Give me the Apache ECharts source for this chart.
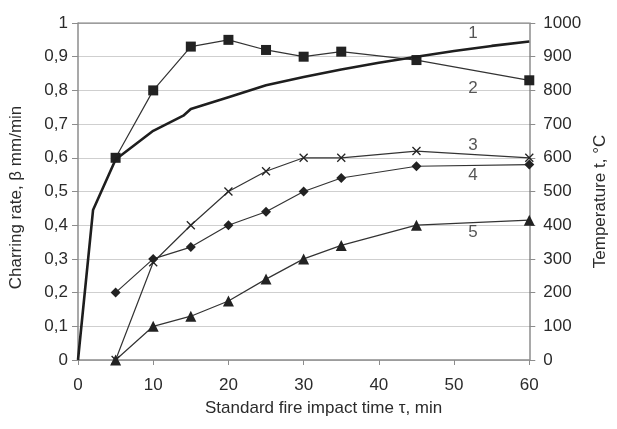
<!DOCTYPE html>
<html>
<head>
<meta charset="utf-8">
<script src="https://cdn.jsdelivr.net/npm/echarts@6/dist/echarts.min.js"></script>
<style>html,body{margin:0;padding:0;background:#fff}#c{width:617px;height:429px}</style>
</head>
<body>
<div id="c"></div>
<script>
// Curve 1: furnace temperature (right axis, °C)
const temp1 = [[0,0],[2,445],[5,595],[10,680],[14,725],[15,745],[20,780],[25,815],[30,840],[35,862],[40,882],[45,900],[50,917],[55,932],[60,945]];
// Charring-rate/temperature series (left axis)
const times = [5,10,15,20,25,30,35,45,60];
const series2 = [0.6,0.8,0.93,0.95,0.92,0.90,0.915,0.89,0.83];
const series3 = [0,0.29,0.4,0.5,0.56,0.6,0.6,0.62,0.6];
const series4 = [0.2,0.3,0.335,0.4,0.44,0.5,0.54,0.575,0.58];
const series5 = [0,0.1,0.13,0.175,0.24,0.3,0.34,0.4,0.415];
const curveLabels = [[52.5,0.97,'1'],[52.5,0.807,'2'],[52.5,0.638,'3'],[52.5,0.549,'4'],[52.5,0.38,'5']];
const xTicks = [0,10,20,30,40,50,60];

const pair = arr => times.map((t,i)=>[t,arr[i]]);
const font = 'Liberation Sans, Arial, sans-serif';
const txt = '#2b2b2b';
const lineCol = '#333';
const axisCol = '#8c8c8c';
const fs = 17;

const chart = echarts.init(document.getElementById('c'), null, {renderer:'canvas'});
const base = (data, symbol, size, extra) => Object.assign({
  type:'line', data:data, yAxisIndex:0, symbol:symbol, symbolSize:size,
  showAllSymbol:true, animation:false,
  lineStyle:{color:lineCol, width:1.2},
  itemStyle:{color:'#222'}, z:3
}, extra||{});

chart.setOption({
  animation:false,
  grid:{left:73, right:69, top:23, bottom:69, show:false},
  xAxis:{
    type:'value', min:0, max:60, interval:10,
    name:'Standard fire impact time \u03c4, min', nameLocation:'middle', nameGap:40,
    nameTextStyle:{fontFamily:font, fontSize:fs, color:txt, padding:[0,0,0,40]},
    axisLine:{show:true, onZero:false, lineStyle:{color:axisCol, width:1.5}},
    axisTick:{show:true, inside:false, length:5, lineStyle:{color:axisCol}},
    axisLabel:{fontFamily:font, fontSize:fs, color:txt, margin:17},
    splitLine:{show:false}
  },
  yAxis:[{
    type:'value', min:0, max:1, interval:0.1, position:'left',
    name:'Charring rate, \u03b2 mm/min', nameLocation:'middle', nameGap:53, nameRotate:90,
    nameTextStyle:{fontFamily:font, fontSize:fs, color:txt, padding:[0,12,0,0]},
    axisLine:{show:true, lineStyle:{color:axisCol, width:1.5}},
    axisTick:{show:true, length:6, lineStyle:{color:axisCol}},
    axisLabel:{fontFamily:font, fontSize:fs, color:txt, margin:10,
      formatter:v=>{const r=Math.round(v*10)/10; return String(r).replace('.',',');}},
    splitLine:{show:true, lineStyle:{color:'#cfcfcf', width:1.2}}
  },{
    type:'value', min:0, max:1000, interval:100, position:'right',
    name:'Temperature t, \u00b0C', nameLocation:'middle', nameGap:60, nameRotate:90,
    nameTextStyle:{fontFamily:font, fontSize:fs, color:txt, padding:[0,20,0,0]},
    axisLine:{show:true, lineStyle:{color:axisCol, width:1.5}},
    axisTick:{show:true, length:6, lineStyle:{color:axisCol}},
    axisLabel:{fontFamily:font, fontSize:fs, color:txt, margin:14, formatter:v=>String(Math.round(v))},
    splitLine:{show:false}
  }],
  series:[
    {type:'line', yAxisIndex:1, data:temp1, symbol:'none', animation:false,
     lineStyle:{color:'#1e1e1e', width:2.6}, z:4},
    base(pair(series2),'rect',10),
    base(pair(series3),'path://M0,0L10,10M10,0L0,10',8,{itemStyle:{color:'rgba(0,0,0,0)', borderColor:'#222', borderWidth:1.3}}),
    base(pair(series4),'diamond',10),
    base(pair(series5),'triangle',11),
    {type:'scatter', yAxisIndex:0, data:curveLabels, symbolSize:0, animation:false, silent:true,
     label:{show:true, position:'inside', formatter:p=>p.value[2], fontFamily:font, fontSize:fs, color:txt}},
    // top border of plot
    {type:'line', yAxisIndex:0, data:[[0,1],[60,1]], symbol:'none', animation:false, silent:true,
     lineStyle:{color:axisCol, width:1.5}, z:1}
  ]
});
</script>
</body>
</html>
